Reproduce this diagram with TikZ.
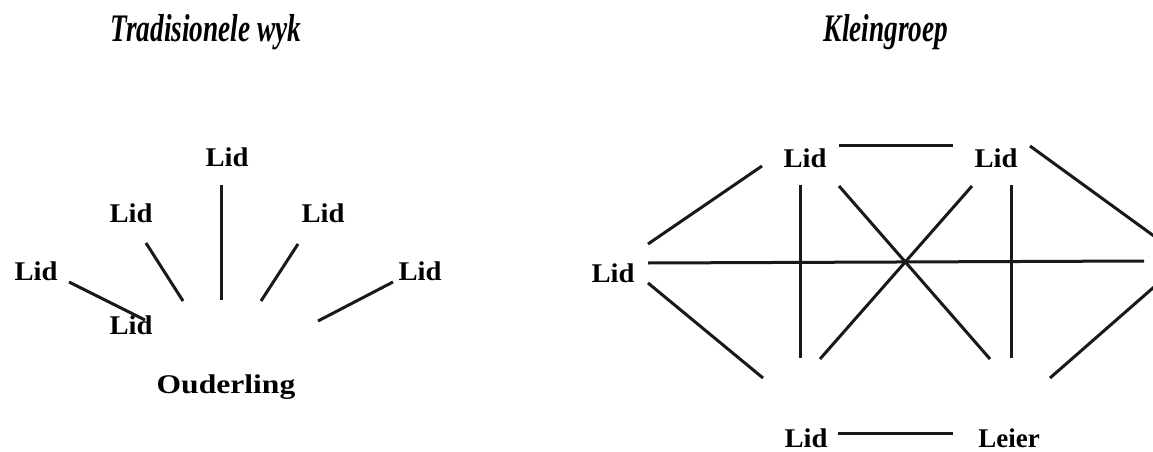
\documentclass[tikz,border=0pt]{standalone}
\usepackage{fontspec}
\setmainfont{Liberation Serif}
\begin{document}
\begin{tikzpicture}[x=1pt,y=-1pt,
  lbl/.style={anchor=base,inner sep=0pt,font=\fontsize{27}{30}\selectfont\bfseries},
  ttl/.style={anchor=base,inner sep=0pt,font=\fontsize{39}{42}\selectfont\bfseries\itshape},
  ln/.style={line width=3pt,black!90}]
\useasboundingbox (0,0) rectangle (1153,452);
\begin{scope}
\clip (0,0) rectangle (1153,452);
% titles
\node[ttl] (t1) at (206,42) {\scalebox{0.7}[1]{Tradisionele wyk}};
\node[ttl] (t2) at (886,42) {\scalebox{0.7}[1]{Kleingroep}};
% left panel
\node[lbl] (lt) at (227,166) {\scalebox{1.06}[1]{Lid}};
\node[lbl] (lul) at (131,222) {\scalebox{1.06}[1]{Lid}};
\node[lbl] (lur) at (323,222) {\scalebox{1.06}[1]{Lid}};
\node[lbl] (ll) at (36,280) {\scalebox{1.06}[1]{Lid}};
\node[lbl] (lr) at (420,280) {\scalebox{1.06}[1]{Lid}};
\node[lbl] (lb) at (131,334) {\scalebox{1.06}[1]{Lid}};
\node[lbl] (od) at (226,393) {\scalebox{1.17}[1]{Ouderling}};
\coordinate (a1) at (221,185); \coordinate (a2) at (221,300);
\coordinate (b1) at (146,243); \coordinate (b2) at (183,301);
\coordinate (c1) at (298,244); \coordinate (c2) at (261,301);
\coordinate (d1) at (393,282); \coordinate (d2) at (318,321);
\coordinate (e1) at (69,282);  \coordinate (e2) at (145,320);
\draw[ln] (a1) -- (a2);
\draw[ln] (b1) -- (b2);
\draw[ln] (c1) -- (c2);
\draw[ln] (d1) -- (d2);
\draw[ln] (e1) -- (e2);
% right panel
\node[lbl] (rtl) at (805,167) {\scalebox{1.06}[1]{Lid}};
\node[lbl] (rtr) at (996,167) {\scalebox{1.06}[1]{Lid}};
\node[lbl] (rl) at (613,282) {\scalebox{1.06}[1]{Lid}};
\node[lbl] (rb) at (806,447) {\scalebox{1.06}[1]{Lid}};
\node[lbl] (rle) at (1009,447) {Leier};
\coordinate (p1) at (839,145); \coordinate (p2) at (953,145);
\coordinate (q1) at (838,433); \coordinate (q2) at (953,433);
\coordinate (r1) at (648,244); \coordinate (r2) at (762,166);
\coordinate (s1) at (648,283); \coordinate (s2) at (763,378);
\coordinate (h1) at (648,263); \coordinate (h2) at (1144,261);
\coordinate (v1) at (800,185); \coordinate (v2) at (800,358);
\coordinate (w1) at (1011,185); \coordinate (w2) at (1011,358);
\coordinate (x1) at (839,186); \coordinate (x2) at (990,359);
\coordinate (y1) at (972,186); \coordinate (y2) at (820,359);
\coordinate (z1) at (1030,146); \coordinate (z2) at (1170,247.7);
\coordinate (u1) at (1050,378); \coordinate (u2) at (1170,273);
\draw[ln] (p1) -- (p2);
\draw[ln] (q1) -- (q2);
\draw[ln] (r1) -- (r2);
\draw[ln] (s1) -- (s2);
\draw[ln] (h1) -- (h2);
\draw[ln] (v1) -- (v2);
\draw[ln] (w1) -- (w2);
\draw[ln] (x1) -- (x2);
\draw[ln] (y1) -- (y2);
\draw[ln] (z1) -- (z2);
\draw[ln] (u1) -- (u2);
\end{scope}
\end{tikzpicture}
\end{document}
